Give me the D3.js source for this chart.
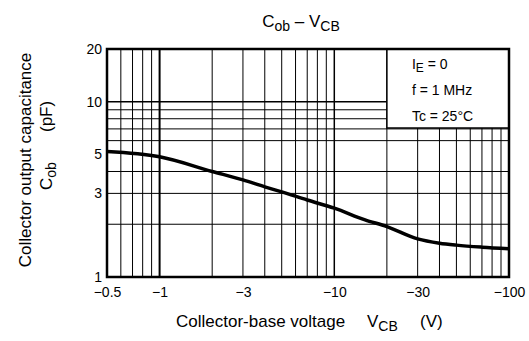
<!DOCTYPE html>
<html>
<head>
<meta charset="utf-8">
<script src="https://cdn.jsdelivr.net/npm/d3@7"></script>
<style>
  body { margin: 0; background: #fff; }
  svg { display: block; font-family: "Liberation Sans", Arial, sans-serif; }
</style>
</head>
<body>
<div class="chart"></div>
<script>
'use strict';

// curve (|VCB| in V, Cob in pF)
var vcb = [0.5, 1, 2, 3, 4, 5, 7, 10, 15, 20, 30, 40, 50, 70, 100];
var cob = [5.2, 4.85, 4.0, 3.58, 3.27, 3.06, 2.75, 2.47, 2.12, 1.94, 1.65, 1.56, 1.52, 1.48, 1.45];

var xTicks = [0.5, 1, 3, 10, 30, 100];
var yTicks = [1, 3, 5, 10, 20];
var xGrid = [0.6, 0.7, 0.8, 0.9, 2, 3, 4, 5, 6, 7, 8, 9, 20, 30, 40, 50, 60, 70, 80, 90];
var xGridMajor = [1, 10];
var yGrid = [2, 3, 4, 6, 7, 8, 9];
var yGridMajor = [10];
var legendLines = [['I', 'E', ' = 0'], ['f = 1 MHz'], ['Tc = 25°C']];

var margin = { top: 49, right: 20, bottom: 64, left: 107 };
var width = 529 - margin.left - margin.right;
var height = 341 - margin.top - margin.bottom;

var x = d3.scaleLog().domain([0.5, 100]).range([0, width]);
var y = d3.scaleLog().domain([1, 20]).range([height, 0]);

var root = d3.select('.chart').append('svg').attr('width', 529).attr('height', 341);
var svg = root.append('g').attr('transform', 'translate(' + margin.left + ',' + margin.top + ')');

// grid
svg.append('g').selectAll('line').data(xGrid).enter().append('line')
  .attr('x1', x).attr('x2', x).attr('y1', 0).attr('y2', height)
  .attr('stroke', '#000').attr('stroke-width', 1);
svg.append('g').selectAll('line').data(yGrid).enter().append('line')
  .attr('y1', y).attr('y2', y).attr('x1', 0).attr('x2', width)
  .attr('stroke', '#000').attr('stroke-width', 1);
svg.append('g').selectAll('line').data(xGridMajor).enter().append('line')
  .attr('x1', x).attr('x2', x).attr('y1', 0).attr('y2', height)
  .attr('stroke', '#000').attr('stroke-width', function (d) { return d === 1 ? 2 : 1.5; });
svg.append('g').selectAll('line').data(yGridMajor).enter().append('line')
  .attr('y1', y).attr('y2', y).attr('x1', 0).attr('x2', width)
  .attr('stroke', '#000').attr('stroke-width', 1.5);

// curve
var pts = vcb.map(function (v, i) { return [v, cob[i]]; });
var line = d3.line()
  .x(function (d) { return x(d[0]); })
  .y(function (d) { return y(d[1]); })
  .curve(d3.curveMonotoneX);
svg.append('path').datum(pts).attr('d', line)
  .attr('fill', 'none').attr('stroke', '#000').attr('stroke-width', 3.5)
  .attr('stroke-linejoin', 'round');

// legend box (left edge on the 20 V line)
var lx = x(20);
var lg = svg.append('g');
lg.append('rect').attr('x', lx).attr('y', 0).attr('width', width - lx).attr('height', 79)
  .attr('fill', '#fff').attr('stroke', '#000').attr('stroke-width', 1.5);
var lt = lg.selectAll('text').data(legendLines).enter().append('text')
  .attr('x', lx + 25)
  .attr('y', function (d, i) { return 20 + i * 26; })
  .attr('font-size', 14);
lt.each(function (d) {
  var t = d3.select(this);
  t.append('tspan').text(d[0]);
  if (d.length > 1) {
    t.append('tspan').attr('dy', 3).attr('font-size', 12).text(d[1]);
    t.append('tspan').attr('dy', -3).text(d[2]);
  }
});

// axes (labels only)
var xAxis = d3.axisBottom(x).tickValues(xTicks).tickSize(0).tickPadding(10)
  .tickFormat(function (d) { return '\u2212' + d; });
var gx = svg.append('g').attr('transform', 'translate(0,' + height + ')').call(xAxis);
var yAxis = d3.axisLeft(y).tickValues(yTicks).tickSize(0).tickPadding(5)
  .tickFormat(d3.format('d'));
var gy = svg.append('g').call(yAxis);
[gx, gy].forEach(function (g) {
  g.select('.domain').remove();
  g.selectAll('text').attr('font-size', 14).attr('fill', '#000')
    .attr('font-family', '"Liberation Sans", Arial, sans-serif');
});

// frame
svg.append('rect').attr('width', width).attr('height', height)
  .attr('fill', 'none').attr('stroke', '#000').attr('stroke-width', 2.5);

// title
var title = root.append('text').attr('x', 301).attr('y', 27)
  .attr('text-anchor', 'middle').attr('font-size', 17);
title.append('tspan').text('C');
title.append('tspan').attr('dy', 4).attr('font-size', 14).text('ob');
title.append('tspan').attr('dy', -4).text(' \u2013 V');
title.append('tspan').attr('dy', 4).attr('font-size', 14).text('CB');

// x axis title
var xt = root.append('text').attr('y', 327).attr('font-size', 17);
xt.append('tspan').attr('x', 176).text('Collector-base voltage');
xt.append('tspan').attr('x', 367).text('V');
xt.append('tspan').attr('dy', 4).attr('font-size', 14).text('CB');
xt.append('tspan').attr('x', 420).attr('dy', -4).text('(V)');

// y axis title, two rotated lines
root.append('text').attr('transform', 'translate(31,160) rotate(-90)')
  .attr('text-anchor', 'middle').attr('font-size', 17)
  .text('Collector output capacitance');
var yt = root.append('text').attr('transform', 'translate(52,190) rotate(-90)')
  .attr('font-size', 17);
yt.append('tspan').attr('x', 0).text('C');
yt.append('tspan').attr('dy', 4).attr('font-size', 14).text('ob');
yt.append('tspan').attr('x', 58).attr('dy', -4).text('(pF)');
</script>
</body>
</html>
